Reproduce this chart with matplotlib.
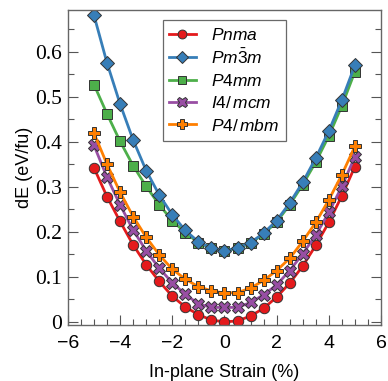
import matplotlib
matplotlib.use('Agg')
import matplotlib.pyplot as plt
import numpy as np
from matplotlib.ticker import MultipleLocator

plt.rcParams['mathtext.fontset'] = 'custom'
plt.rcParams['mathtext.it'] = 'Liberation Sans:italic'
plt.rcParams['mathtext.rm'] = 'Liberation Sans'

# strain points (%)
strain = [-5.0, -4.5, -4.0, -3.5, -3.0, -2.5, -2.0, -1.5, -1.0, -0.5, 0.0,
          0.5, 1.0, 1.5, 2.0, 2.5, 3.0, 3.5, 4.0, 4.5, 5.0]

# energy per formula unit relative to Pnma ground state (eV/fu)
pnma = [0.342, 0.278, 0.223, 0.171, 0.127, 0.090, 0.057, 0.033, 0.016, 0.004, 0.0,
        0.002, 0.013, 0.030, 0.055, 0.086, 0.124, 0.170, 0.221, 0.280, 0.345]
pm3m = [0.681, 0.575, 0.484, 0.404, 0.336, 0.282, 0.238, 0.203, 0.178, 0.164, 0.158,
        0.164, 0.176, 0.197, 0.225, 0.264, 0.310, 0.364, 0.424, 0.493, 0.570]
p4mm = [0.527, 0.462, 0.401, 0.347, 0.301, 0.260, 0.225, 0.198, 0.176, 0.163, 0.158,
        0.163, 0.175, 0.195, 0.222, 0.260, 0.305, 0.355, 0.413, 0.480, 0.556]
i4mcm = [0.392, 0.321, 0.260, 0.204, 0.158, 0.119, 0.087, 0.061, 0.040, 0.032, 0.032,
         0.032, 0.043, 0.060, 0.082, 0.114, 0.151, 0.193, 0.243, 0.301, 0.367]
p4mbm = [0.419, 0.350, 0.288, 0.234, 0.188, 0.149, 0.117, 0.095, 0.078, 0.069, 0.064,
         0.065, 0.075, 0.092, 0.114, 0.141, 0.179, 0.221, 0.271, 0.327, 0.390]

labels = [r'$\mathit{Pnma}$', r'$\mathit{Pm\bar{3}m}$', r'$\mathit{P4mm}$',
          r'$\mathit{I4/\,mcm}$', r'$\mathit{P4/\,mbm}$']
colors = ['#e41a1c', '#377eb8', '#4daf4a', '#984ea3', '#ff7f00']
markers = ['o', 'D', 's', 'X', 'P']
sizes = [7.5, 7, 7, 8.5, 9]

fig = plt.figure(figsize=(3.88, 3.81), dpi=100)
ax = fig.add_axes([0.175, 0.147, 0.807, 0.827])

series = [pnma, pm3m, p4mm, i4mcm, p4mbm]
# green sits under blue where they overlap
order = [0, 3, 4, 2, 1]
handles = {}
for i in order:
    h, = ax.plot(strain, series[i], color=colors[i], marker=markers[i],
                 markersize=sizes[i], markeredgecolor='#333333', markeredgewidth=0.7,
                 linewidth=2, label=labels[i])
    handles[i] = h

ax.set_xlim(-6, 6)
ax.set_ylim(-0.007, 0.693)
ax.xaxis.set_minor_locator(MultipleLocator(0.5))
ax.yaxis.set_minor_locator(MultipleLocator(0.05))
ax.set_yticks([0, 0.1, 0.2, 0.3, 0.4, 0.5, 0.6])
ax.set_yticklabels(['0', '0.1', '0.2', '0.3', '0.4', '0.5', '0.6'],
                   family='Liberation Serif', fontsize=15.5)
ax.set_xticks([-6, -4, -2, 0, 2, 4, 6])
ax.set_xticklabels(['\u22126', '\u22124', '\u22122', '0', '2', '4', '6'],
                   family='Liberation Sans', fontsize=14)

ax.tick_params(which='both', direction='in', left=True, right=True, top=False,
               color='#555555')
ax.tick_params(which='major', length=7, width=0.8)
ax.tick_params(axis='x', which='major', pad=7)
ax.tick_params(axis='y', which='major', pad=4)
ax.tick_params(which='minor', length=4, width=0.8)
for s in ax.spines.values():
    s.set_color('#666666')
    s.set_linewidth(1)

ax.set_xlabel('In-plane Strain (%)', family='Liberation Sans', fontsize=13, labelpad=9)
ax.set_ylabel('dE (eV/fu)', family='Liberation Sans', fontsize=13, labelpad=2)

leg = ax.legend([handles[i] for i in range(5)], labels, loc='upper center',
                bbox_to_anchor=(0.5, 0.985), fontsize=12.5, frameon=True, fancybox=False,
                edgecolor='#444444', borderpad=0.35, labelspacing=0.25,
                handlelength=1.5, handletextpad=0.9, borderaxespad=0.3, markerscale=0.85)
leg.get_frame().set_linewidth(0.9)

fig.savefig('out.png', dpi=100)
